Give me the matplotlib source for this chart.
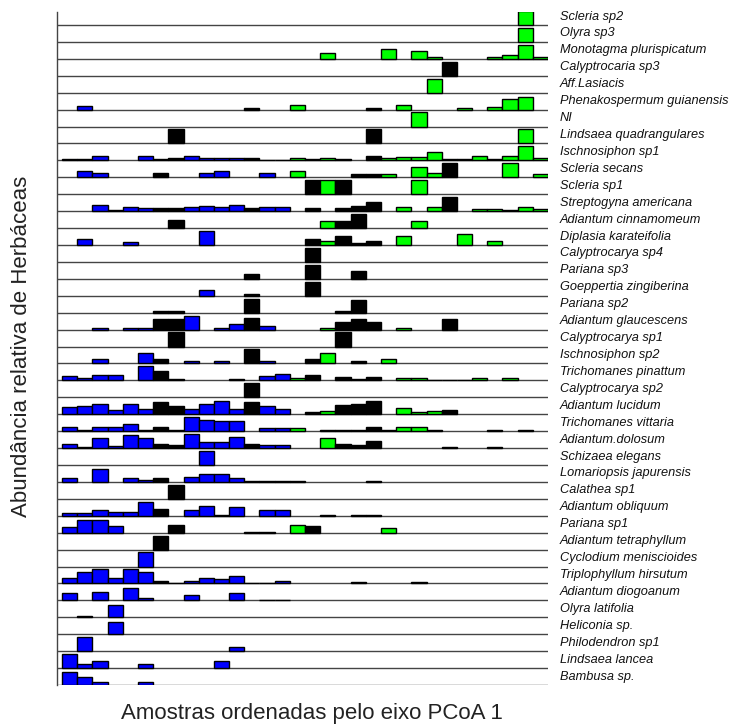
import numpy as np
import matplotlib
matplotlib.use("Agg")
import matplotlib.pyplot as plt
import matplotlib.transforms as mtransforms

plt.rcParams['font.family'] = ['Liberation Sans', 'DejaVu Sans']

# species, top to bottom
species = [
    "Scleria sp2", "Olyra sp3", "Monotagma plurispicatum", "Calyptrocaria sp3",
    "Aff.Lasiacis", "Phenakospermum guianensis", "NI", "Lindsaea quadrangulares",
    "Ischnosiphon sp1", "Scleria secans", "Scleria sp1", "Streptogyna americana",
    "Adiantum cinnamomeum", "Diplasia karateifolia", "Calyptrocarya sp4",
    "Pariana sp3", "Goeppertia zingiberina", "Pariana sp2", "Adiantum glaucescens",
    "Calyptrocarya sp1", "Ischnosiphon sp2", "Trichomanes pinattum",
    "Calyptrocarya sp2", "Adiantum lucidum", "Trichomanes vittaria",
    "Adiantum.dolosum", "Schizaea elegans", "Lomariopsis japurensis",
    "Calathea sp1", "Adiantum obliquum", "Pariana sp1", "Adiantum tetraphyllum",
    "Cyclodium meniscioides", "Triplophyllum hirsutum", "Adiantum diogoanum",
    "Olyra latifolia", "Heliconia sp.", "Philodendron sp1", "Lindsaea lancea",
    "Bambusa sp.",
]

# group of each of the 32 samples (ordered along PCoA 1)
sample_group = ["b", "b", "b", "b", "b", "b", "k", "k", "b", "b", "b", "b",
                "k", "b", "b", "g", "k", "g", "k", "k", "k", "g", "g", "g",
                "g", "k", "g", "g", "g", "g", "g", "g"]
group_colors = {"b": "#0000ff", "k": "#000000", "g": "#00ff00"}

# relative abundance per species (sample index: value, row max ~ 1)
abundance = [
    {30: 1.0},
    {30: 1.0},
    {17: .43, 21: .67, 23: .55, 24: .12, 28: .12, 29: .24, 30: 1.0, 31: .1},
    {25: 1.0},
    {24: 1.0},
    {1: .24, 12: .12, 15: .33, 20: .12, 22: .31, 26: .12, 28: .21, 29: .74, 30: .92},
    {23: 1.0},
    {7: 1.0, 20: 1.0, 30: 1.0},
    {0: .12, 1: .12, 2: .33, 5: .33, 6: .12, 7: .2, 8: .33, 9: .14, 10: .14,
     11: .14, 12: .2, 13: .06, 14: .06, 15: .15, 16: .1, 17: .19, 18: .08,
     20: .33, 21: .19, 22: .26, 23: .26, 24: .57, 25: .08, 26: .12, 27: .29,
     28: .12, 29: .29, 30: 1.0, 31: .17},
    {1: .48, 2: .29, 6: .29, 9: .29, 10: .48, 13: .29, 15: .48, 19: .25,
     20: .25, 21: .26, 23: .76, 24: .29, 25: 1.0, 29: 1.0, 31: .26},
    {16: 1.0, 17: 1.0, 18: 1.0, 23: 1.0},
    {2: .43, 3: .1, 4: .31, 5: .19, 6: .21, 7: .21, 8: .29, 9: .4, 10: .29,
     11: .43, 12: .21, 13: .31, 14: .31, 16: .24, 18: .24, 19: .36, 20: .64,
     22: .29, 24: .29, 25: 1.0, 27: .17, 28: .17, 29: .1, 30: .29, 31: .17},
    {7: .55, 17: .5, 18: .5, 19: 1.0, 23: .5},
    {1: .43, 4: .24, 9: 1.0, 16: .45, 17: .3, 18: .67, 19: .15, 20: .28,
     22: .64, 26: .76, 28: .26},
    {16: 1.0},
    {12: .36, 16: 1.0, 19: .55},
    {9: .43, 12: .1, 16: 1.0},
    {6: .12, 7: .12, 12: 1.0, 18: .12, 19: .9},
    {2: .14, 4: .1, 5: .1, 6: .76, 7: .76, 8: .95, 10: .12, 11: .43, 12: .86,
     13: .24, 17: .12, 18: .55, 19: .76, 20: .55, 22: .12, 25: .76},
    {7: 1.0, 18: 1.0},
    {2: .29, 5: .71, 6: .33, 8: .19, 10: .19, 12: 1.0, 13: .19, 16: .33,
     17: .71, 19: .21, 21: .31},
    {0: .31, 1: .19, 2: .4, 3: .4, 5: 1.0, 6: .67, 7: .1, 11: .12, 13: .31,
     14: .43, 15: .15, 16: .36, 18: .24, 19: .08, 20: .24, 22: .2, 23: .2,
     24: .06, 25: .06, 26: .06, 27: .2, 29: .2},
    {12: 1.0},
    {0: .48, 1: .62, 2: .71, 3: .31, 4: .71, 5: .4, 6: .86, 7: .62, 8: .38,
     9: .71, 10: .93, 11: .38, 12: .86, 13: .6, 14: .4, 16: .14, 17: .24,
     18: .64, 19: .76, 20: .95, 22: .43, 23: .14, 24: .21, 25: .33},
    {0: .29, 1: .06, 2: .29, 3: .29, 4: .48, 5: .06, 6: .31, 7: .06, 8: 1.0,
     9: .81, 10: .69, 11: .69, 13: .19, 14: .19, 15: .26, 17: .05, 18: .05,
     19: .05, 20: .31, 21: .05, 22: .29, 23: .29, 24: .05, 28: .06, 30: .06},
    {0: .26, 1: .06, 2: .69, 3: .17, 4: .9, 5: .69, 6: .29, 7: .19, 8: .98,
     9: .45, 10: .45, 11: .79, 12: .29, 13: .24, 14: .24, 17: .71, 18: .29,
     19: .19, 20: .5, 25: .1, 28: .1},
    {9: 1.0},
    {0: .29, 2: .9, 4: .29, 5: .17, 6: .31, 8: .38, 9: .57, 10: .57, 11: .29,
     12: .05, 13: .05, 14: .05, 15: .05, 20: .06},
    {7: 1.0},
    {0: .21, 1: .21, 2: .4, 3: .29, 4: .29, 5: 1.0, 6: .5, 8: .38, 9: .71,
     10: .06, 11: .6, 13: .38, 14: .38, 17: .08, 19: .08, 20: .08},
    {0: .43, 1: .9, 2: .9, 3: .5, 7: .55, 12: .05, 13: .05, 15: .52, 16: .48,
     21: .36},
    {6: 1.0},
    {5: 1.0},
    {0: .36, 1: .79, 2: 1.0, 3: .36, 4: 1.0, 5: .79, 6: .19, 7: .06, 8: .19,
     9: .38, 10: .29, 11: .5, 12: .06, 13: .06, 14: .19, 19: .12, 23: .12},
    {0: .5, 2: .6, 4: .9, 5: .19, 8: .38, 11: .5, 13: .06, 14: .06},
    {1: .08, 3: .9},
    {3: .9},
    {1: 1.0, 11: .31},
    {0: 1.0, 1: .29, 2: .48, 5: .29, 10: .5},
    {0: .9, 1: .6, 2: .19, 5: .19},
]

n_samples = len(sample_group)
n_species = len(species)
mat = np.zeros((n_species, n_samples))
for i, row in enumerate(abundance):
    for j, v in row.items():
        mat[i, j] = v

bar_colors = [group_colors[g] for g in sample_group]
x = np.arange(n_samples)
row_scale = 0.83  # fraction of the row a full bar takes

fig = plt.figure(figsize=(7.31, 7.27), dpi=100)
ax = fig.add_axes([57 / 731, 42 / 727, 491 / 731, 673 / 727])
label_tr = mtransforms.blended_transform_factory(ax.transAxes, ax.transData)

for i in range(n_species):
    base = n_species - 1 - i
    vals = mat[i]
    keep = vals > 0
    ax.bar(x[keep], vals[keep] * row_scale, width=1.0, bottom=base,
           align="edge", color=[c for c, k in zip(bar_colors, keep) if k],
           edgecolor="black", linewidth=1.0, zorder=3)
    ax.axhline(base, color="#444444", lw=1.0, zorder=2)
    ax.text(1.0245, base + 0.5, species[i], style="italic", fontsize=9.2,
            ha="left", va="center", color="#111111", transform=label_tr)

ax.set_xlim(-0.33, n_samples)
ax.set_ylim(0, n_species - 1 + 13 / 16.92)
for s in ["top", "right", "bottom"]:
    ax.spines[s].set_visible(False)
ax.spines["left"].set_color("#444444")
ax.spines["left"].set_linewidth(1.0)
ax.set_xticks([])
ax.set_yticks([])

fig.text(312 / 731, 1 - 713 / 727, "Amostras ordenadas pelo eixo PCoA 1",
         ha="center", va="center", fontsize=16, color="#222222")
fig.text(22 / 731, 1 - 346 / 727, "Abundância relativa de Herbáceas",
         ha="center", va="center", rotation=90, fontsize=16, color="#222222")

fig.savefig("out.png", dpi=100)
plt.close(fig)
